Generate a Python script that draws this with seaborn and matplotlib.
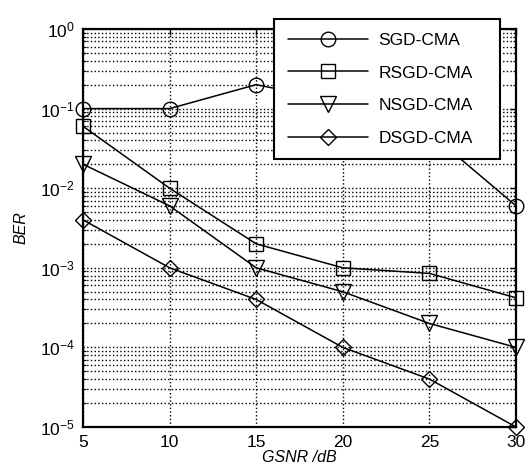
import numpy as np
import pandas as pd
import matplotlib
matplotlib.use("Agg")
import matplotlib.pyplot as plt
import seaborn as sns
from matplotlib.ticker import LogLocator, NullFormatter

gsnr = [5, 10, 15, 20, 25, 30]
methods = ["SGD-CMA", "RSGD-CMA", "NSGD-CMA", "DSGD-CMA"]
ber_sgd = [1e-1, 1e-1, 2e-1, 1.2e-1, 5e-2, 6e-3]
ber_rsgd = [6e-2, 1e-2, 2e-3, 1e-3, 8.5e-4, 4.2e-4]
ber_nsgd = [2e-2, 6e-3, 1e-3, 5e-4, 2e-4, 1e-4]
ber_dsgd = [4e-3, 1e-3, 4e-4, 1e-4, 4e-5, 1e-5]

df = pd.DataFrame({
    "GSNR": gsnr * 4,
    "BER": ber_sgd + ber_rsgd + ber_nsgd + ber_dsgd,
    "method": sum([[m] * len(gsnr) for m in methods], []),
})

sns.set_style("white")
plt.rcParams["font.family"] = ["Liberation Sans", "DejaVu Sans"]
plt.rcParams["mathtext.fontset"] = "custom"
plt.rcParams["mathtext.rm"] = "Liberation Sans"
plt.rcParams["mathtext.it"] = "Liberation Sans:italic"
plt.rcParams["text.color"] = "black"
plt.rcParams["axes.labelcolor"] = "black"
plt.rcParams["xtick.color"] = "black"
plt.rcParams["ytick.color"] = "black"

fig = plt.figure(figsize=(5.26, 4.73), dpi=100)
ax = fig.add_axes([83 / 526, 1 - 427 / 473, (516 - 83) / 526, (427 - 29) / 473])

sns.lineplot(
    data=df, x="GSNR", y="BER", style="method", style_order=methods,
    markers={"SGD-CMA": "o", "RSGD-CMA": "s", "NSGD-CMA": "v", "DSGD-CMA": "D"},
    dashes=False, color="black", linewidth=1.1, markersize=10,
    markerfacecolor="none", markeredgecolor="black", markeredgewidth=1.0,
    clip_on=False, legend=False, ax=ax, zorder=5,
)
sizes = [10.5, 9.5, 11, 8]
for line, s in zip(ax.lines, sizes):
    line.set_markersize(s)

ax.set_yscale("log")
ax.set_xlim(5, 30)
ax.set_ylim(1e-5, 1)
ax.set_xticks(gsnr)
ax.yaxis.set_major_locator(LogLocator(base=10, numticks=10))
ax.yaxis.set_minor_locator(LogLocator(base=10, subs=np.arange(2, 10), numticks=20))
ax.yaxis.set_minor_formatter(NullFormatter())

ax.grid(True, which="major", axis="both", color="black", linestyle=":", linewidth=1.0)
ax.grid(True, which="minor", axis="y", color="black", linestyle=":", linewidth=1.0)
ax.set_axisbelow(True)

for sp in ax.spines.values():
    sp.set_visible(True)
    sp.set_color("black")
    sp.set_linewidth(1.6)

ax.tick_params(axis="both", which="major", direction="in", length=4, width=1,
               labelsize=12.5, colors="black", top=True, right=True, pad=6)
ax.tick_params(axis="y", which="minor", direction="in", length=2, width=0.8,
               right=True, left=True)

ax.set_xlabel("GSNR /dB", fontsize=11.5, style="italic", labelpad=0, color="black")
ax.set_ylabel("BER", fontsize=11.5, style="italic", labelpad=8, color="black")

leg = ax.legend(ax.lines, methods, loc="upper left",
                bbox_to_anchor=(274 / 526, 1 - 159 / 473, 226 / 526, 140 / 473),
                bbox_transform=fig.transFigure, borderaxespad=0, mode="expand",
                fontsize=12.5, handlelength=4.6, handletextpad=0.6,
                labelspacing=1.0, borderpad=0.8, fancybox=False,
                framealpha=1, edgecolor="black", labelcolor="black")
leg.get_frame().set_linewidth(1.5)
leg.set_zorder(10)

fig.savefig("out.png", dpi=100)
